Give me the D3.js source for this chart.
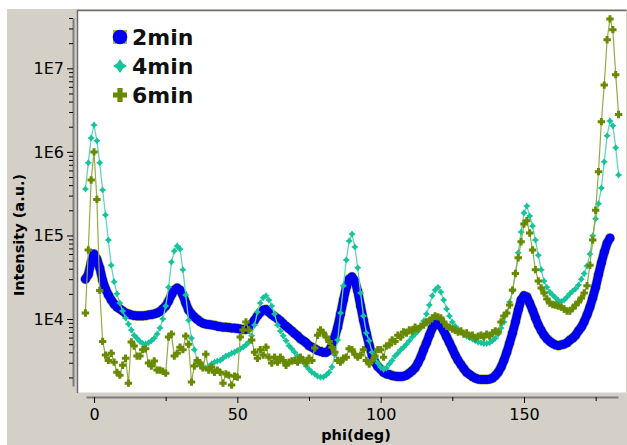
<!DOCTYPE html>
<html>
<head>
<meta charset="utf-8">
<script src="https://cdn.jsdelivr.net/npm/d3@7/dist/d3.min.js"></script>
<style>
	body { margin: 0; background: #fff; }
	svg { display: block; }
	.tick text { font-family: 'DejaVu Sans', sans-serif; font-size: 16px; fill: #000; }
	.axisTitle { font-family: 'DejaVu Sans', sans-serif; font-weight: bold; font-size: 14.5px; fill: #000; }
	.legendText { font-family: 'DejaVu Sans', sans-serif; font-weight: bold; font-size: 22px; fill: #111; }
</style>
</head>
<body>
<div id="chart"></div>
<script>
var PHI = [-3, -2, -1, 0, 1, 2, 3, 4, 5, 6, 7, 8, 9, 10, 11, 12, 13, 14, 15, 16, 17, 18, 19, 20,
	21, 22, 23, 24, 25, 26, 27, 28, 29, 30, 31, 32, 33, 34, 35, 36, 37, 38, 39, 40, 41, 42, 43, 44,
	45, 46, 47, 48, 49, 50, 51, 52, 53, 54, 55, 56, 57, 58, 59, 60, 61, 62, 63, 64, 65, 66, 67, 68,
	69, 70, 71, 72, 73, 74, 75, 76, 77, 78, 79, 80, 81, 82, 83, 84, 85, 86, 87, 88, 89, 90, 91, 92,
	93, 94, 95, 96, 97, 98, 99, 100, 101, 102, 103, 104, 105, 106, 107, 108, 109, 110, 111, 112,
	113, 114, 115, 116, 117, 118, 119, 120, 121, 122, 123, 124, 125, 126, 127, 128, 129, 130, 131,
	132, 133, 134, 135, 136, 137, 138, 139, 140, 141, 142, 143, 144, 145, 146, 147, 148, 149, 150,
	151, 152, 153, 154, 155, 156, 157, 158, 159, 160, 161, 162, 163, 164, 165, 166, 167, 168, 169,
	170, 171, 172, 173, 174, 175, 176, 177, 178, 179, 180, 181, 182, 183];

// 2min : phi -3 .. 180
var INT_2MIN = [3.0e4, 3.4e4, 4.8e4, 6.0e4, 5.2e4, 4.1e4, 2.9e4, 2.3e4, 1.94e4, 1.69e4, 1.51e4, 1.39e4,
	1.32e4, 1.25e4, 1.18e4, 1.15e4, 1.12e4, 1.10e4, 1.09e4, 1.09e4, 1.09e4, 1.10e4, 1.12e4, 1.13e4,
	1.15e4, 1.18e4, 1.23e4, 1.32e4, 1.43e4, 1.64e4, 1.94e4, 2.22e4, 2.35e4, 2.22e4, 1.94e4, 1.55e4,
	1.28e4, 1.15e4, 1.06e4, 9.9e3, 9.3e3, 8.9e3, 8.7e3, 8.6e3, 8.5e3, 8.4e3, 8.2e3, 8.1e3, 8.0e3,
	8.0e3, 7.9e3, 7.8e3, 7.8e3, 7.7e3, 7.6e3, 7.5e3, 7.5e3, 8.0e3, 8.7e3, 9.7e3, 1.09e4, 1.2e4,
	1.28e4, 1.3e4, 1.21e4, 1.13e4, 1.07e4, 1.01e4, 9.5e3, 8.8e3, 8.2e3, 7.7e3, 7.2e3, 6.7e3, 6.3e3,
	5.8e3, 5.5e3, 5.2e3, 4.8e3, 4.6e3, 4.4e3, 4.2e3, 4.1e3, 4.0e3, 4.0e3, 4.2e3, 4.8e3, 6.1e3,
	8.0e3, 1.15e4, 1.69e4, 2.4e4, 3.0e4, 3.2e4, 2.85e4, 2.16e4, 1.43e4, 9.7e3, 6.8e3, 4.9e3, 3.7e3,
	3.05e3, 2.7e3, 2.5e3, 2.3e3, 2.2e3, 2.17e3, 2.1e3, 2.07e3, 2.05e3, 2.05e3, 2.07e3, 2.13e3,
	2.25e3, 2.4e3, 2.6e3, 2.97e3, 3.5e3, 4.3e3, 5.2e3, 6.4e3, 7.8e3, 8.7e3, 8.8e3, 8.2e3, 7.2e3,
	6.1e3, 5.2e3, 4.4e3, 3.7e3, 3.2e3, 2.85e3, 2.55e3, 2.3e3, 2.17e3, 2.05e3, 1.96e3, 1.91e3, 1.89e3,
	1.89e3, 1.89e3, 1.91e3, 1.96e3, 2.1e3, 2.3e3, 2.65e3, 3.2e3, 4.0e3, 5.2e3, 6.8e3, 9.2e3, 1.28e4,
	1.69e4, 1.9e4, 1.84e4, 1.55e4, 1.28e4, 1.03e4, 8.5e3, 7.3e3, 6.4e3, 5.8e3, 5.4e3, 5.1e3, 4.9e3,
	4.8e3, 4.9e3, 5.0e3, 5.2e3, 5.6e3, 5.9e3, 6.4e3, 7.2e3, 8.0e3, 9.3e3, 1.12e4, 1.39e4, 1.8e4,
	2.4e4, 3.4e4, 4.7e4, 6.3e4, 8.1e4, 9.3e4];

// 4min : phi -3 .. 183
var INT_4MIN = [3.6e5, 7.4e5, 1.47e6, 2.1e6, 1.36e6, 7.4e5, 3.5e5, 1.76e5, 8.8e4, 4.4e4, 2.8e4, 2.0e4,
	1.55e4, 1.25e4, 1.03e4, 8.7e3, 7.4e3, 6.4e3, 5.9e3, 5.4e3, 5.1e3, 5.0e3, 5.2e3, 5.5e3, 5.9e3,
	6.6e3, 7.8e3, 1.0e4, 1.43e4, 2.4e4, 4.8e4, 6.5e4, 7.5e4, 6.9e4, 3.9e4, 1.94e4, 9.7e3, 5.9e3,
	4.3e3, 3.2e3, 2.8e3, 2.6e3, 2.6e3, 2.66e3, 2.9e3, 3.05e3, 3.14e3, 3.2e3, 3.4e3, 3.6e3, 3.7e3,
	3.9e3, 4.0e3, 4.2e3, 4.4e3, 4.6e3, 4.9e3, 5.3e3, 6.3e3, 8.5e3, 1.21e4, 1.55e4, 1.8e4, 1.9e4,
	1.69e4, 1.43e4, 1.15e4, 8.5e3, 7.2e3, 6.3e3, 5.5e3, 4.8e3, 4.4e3, 4.0e3, 3.6e3, 3.3e3, 3.05e3,
	2.74e3, 2.5e3, 2.3e3, 2.2e3, 2.07e3, 2.02e3, 2.02e3, 2.13e3, 2.3e3, 2.66e3, 3.7e3, 5.6e3, 1.18e4,
	2.5e4, 5.1e4, 8.6e4, 1.04e5, 7.3e4, 4.1e4, 2.05e4, 1.09e4, 6.8e3, 5.5e3, 4.0e3, 3.4e3, 2.97e3,
	2.66e3, 2.5e3, 2.6e3, 2.9e3, 3.2e3, 3.6e3, 3.9e3, 4.3e3, 4.6e3, 5.0e3, 5.5e3, 6.1e3, 6.6e3,
	7.2e3, 8.0e3, 9.5e3, 1.15e4, 1.47e4, 1.9e4, 2.22e4, 2.4e4, 2.1e4, 1.69e4, 1.32e4, 1.09e4, 9.2e3,
	8.2e3, 7.5e3, 7.0e3, 6.6e3, 6.25e3, 6.0e3, 5.76e3, 5.5e3, 5.3e3, 5.2e3, 5.1e3, 5.1e3, 5.2e3,
	5.5e3, 5.9e3, 6.6e3, 7.8e3, 9.2e3, 1.18e4, 1.6e4, 2.16e4, 3.55e4, 6.2e4, 1.1e5, 1.86e5, 2.25e5,
	1.71e5, 1.3e5, 8.8e4, 5.8e4, 3.9e4, 2.85e4, 2.4e4, 2.1e4, 1.94e4, 1.8e4, 1.67e4, 1.62e4, 1.69e4,
	1.84e4, 2.0e4, 2.16e4, 2.3e4, 2.55e4, 3.0e4, 3.5e4, 4.3e4, 6.0e4, 9.9e4, 1.58e5, 2.4e5, 3.7e5,
	7.6e5, 1.56e6, 2.35e6, 2.05e6, 1.12e6, 5.3e5];

// 6min : phi -3 .. 183
var INT_6MIN = [1.18e4, 6.7e4, 4.6e5, 1.0e6, 2.7e5, 2.2e4, 5.4e3, 3.7e3, 3.2e3, 3.9e3, 3.05e3, 2.3e3,
	2.13e3, 2.8e3, 3.4e3, 1.71e3, 5.3e3, 4.75e3, 3.6e3, 3.6e3, 4.3e3, 4.4e3, 2.97e3, 2.74e3, 3.14e3,
	2.45e3, 2.45e3, 2.38e3, 2.25e3, 6.1e3, 6.6e3, 3.6e3, 3.9e3, 4.6e3, 4.3e3, 6.25e3, 5.0e3, 1.76e3,
	2.74e3, 3.2e3, 2.97e3, 2.6e3, 3.8e3, 2.45e3, 2.66e3, 2.3e3, 2.45e3, 2.3e3, 1.71e3, 2.2e3, 2.13e3,
	1.62e3, 2.07e3, 2.02e3, 6.1e3, 7.4e3, 9.2e3, 7.4e3, 5.6e3, 4.0e3, 3.4e3, 4.3e3, 3.7e3, 4.6e3,
	3.5e3, 2.97e3, 3.5e3, 3.05e3, 3.5e3, 3.2e3, 2.8e3, 3.05e3, 3.14e3, 3.2e3, 3.05e3, 3.5e3, 3.2e3,
	2.97e3, 3.4e3, 3.2e3, 4.5e3, 6.4e3, 7.4e3, 6.8e3, 6.1e3, 5.4e3, 4.6e3, 4.0e3, 3.2e3, 3.05e3,
	3.4e3, 3.5e3, 4.4e3, 4.3e3, 3.8e3, 3.5e3, 3.7e3, 4.3e3, 3.2e3, 2.9e3, 3.2e3, 3.6e3, 4.3e3, 4.3e3,
	3.5e3, 4.75e3, 4.9e3, 5.6e3, 5.4e3, 6.4e3, 6.1e3, 7.0e3, 6.8e3, 7.4e3, 7.2e3, 8.0e3, 7.6e3,
	8.2e3, 8.5e3, 9.2e3, 9.5e3, 1.03e4, 1.09e4, 1.06e4, 1.03e4, 9.2e3, 8.2e3, 8.0e3, 7.6e3, 7.4e3,
	7.0e3, 7.2e3, 6.6e3, 6.8e3, 6.25e3, 6.4e3, 5.9e3, 6.25e3, 6.4e3, 6.1e3, 6.6e3, 6.25e3, 6.8e3,
	7.2e3, 7.0e3, 9.2e3, 1.09e4, 1.18e4, 1.47e4, 2.22e4, 3.5e4, 5.4e4, 8.4e4, 1.37e5, 1.5e5, 1.07e5,
	6.7e4, 3.9e4, 2.85e4, 2.35e4, 2.05e4, 1.74e4, 1.55e4, 1.49e4, 1.47e4, 1.43e4, 1.39e4, 1.32e4,
	1.25e4, 1.25e4, 1.35e4, 1.47e4, 1.6e4, 1.78e4, 2.05e4, 2.5e4, 4.4e4, 8.8e4, 2.0e5, 5.8e5, 2.3e6,
	6.3e6, 2.2e7, 3.9e7, 2.9e7, 8.4e6, 2.8e6];

var SERIES_NAMES = ['2min', '4min', '6min'];
var X_MAJOR_TICKS = [0, 50, 100, 150];
var X_MINOR_TICKS = [25, 75, 125, 175];
var Y_MAJOR_TICKS = [1e4, 1e5, 1e6, 1e7];
var Y_MINOR_TICKS = [2e3, 3e3, 4e3, 5e3, 6e3, 7e3, 8e3, 9e3, 2e4, 3e4, 4e4, 5e4, 6e4, 7e4, 8e4, 9e4,
	2e5, 3e5, 4e5, 5e5, 6e5, 7e5, 8e5, 9e5, 2e6, 3e6, 4e6, 5e6, 6e6, 7e6, 8e6, 9e6, 2e7, 3e7, 4e7];

var BLUE = '#0000f0',
	HALO = '#b8c850',
	TEAL = '#14c49b',
	OLIVE = '#678a00';

drawChart('chart');

function drawChart(elementId) {
	var width = 627,
		height = 445,
		plot = { left: 77, top: 10, right: 626, bottom: 392.5 },

		svg = d3.select('#' + elementId).append('svg')
			.attr('width', width)
			.attr('height', height),

		x = d3.scaleLinear()
			.domain([-2.8, 182.8])
			.range([86, 618]),

		y = d3.scaleLog()
			.domain([1580, 4e7])
			.range([386, 18]);

	function points(values) {
		return values.map(function (v, i) {
			return { phi: PHI[i], value: v };
		});
	}

	var data2 = points(INT_2MIN),
		data4 = points(INT_4MIN),
		data6 = points(INT_6MIN);

	// panel background
	svg.append('rect')
		.attr('x', 7).attr('y', 9)
		.attr('width', width - 7).attr('height', height - 9)
		.attr('fill', '#d4d0c8');

	svg.append('rect')
		.attr('x', plot.left).attr('y', plot.top)
		.attr('width', plot.right - plot.left).attr('height', plot.bottom - plot.top)
		.attr('fill', '#fff');

	svg.append('path')
		.attr('d', 'M' + plot.left + ',' + plot.bottom + 'V' + plot.top + 'H' + plot.right)
		.attr('transform', 'translate(0.5,0.5)')
		.attr('fill', 'none')
		.attr('stroke', '#6e6e6e')
		.attr('stroke-width', 1.5);

	svg.append('defs').append('clipPath')
		.attr('id', 'plotClip')
		.append('rect')
		.attr('x', plot.left + 1).attr('y', plot.top + 1)
		.attr('width', plot.right - plot.left - 1).attr('height', plot.bottom - plot.top - 1);

	// axes
	svg.append('g')
		.attr('class', 'xAxis')
		.attr('transform', 'translate(0,397)')
		.call(d3.axisBottom(x)
			.tickValues(X_MAJOR_TICKS)
			.tickSize(6)
			.tickSizeOuter(0)
			.tickPadding(6));

	svg.append('g')
		.attr('class', 'xAxisMinor')
		.attr('transform', 'translate(0,397)')
		.call(d3.axisBottom(x)
			.tickValues(X_MINOR_TICKS)
			.tickSize(4)
			.tickSizeOuter(0)
			.tickFormat(''))
		.select('.domain').remove();

	svg.append('g')
		.attr('class', 'yAxis')
		.attr('transform', 'translate(73,0)')
		.call(d3.axisLeft(y)
			.tickValues(Y_MAJOR_TICKS)
			.tickSize(6)
			.tickSizeOuter(0)
			.tickPadding(3)
			.tickFormat(function (d) { return '1E' + Math.round(Math.log10(d)); }));

	svg.append('g')
		.attr('class', 'yAxisMinor')
		.attr('transform', 'translate(73,0)')
		.call(d3.axisLeft(y)
			.tickValues(Y_MINOR_TICKS)
			.tickSize(4)
			.tickSizeOuter(0)
			.tickFormat(''))
		.select('.domain').remove();

	svg.selectAll('.xAxis .domain, .yAxis .domain')
		.attr('stroke', '#7d7d7d')
		.attr('stroke-width', 2);
	svg.selectAll('.tick line').attr('stroke', '#000');

	svg.append('text')
		.attr('class', 'axisTitle')
		.attr('x', 356)
		.attr('y', 440)
		.attr('text-anchor', 'middle')
		.text('phi(deg)');

	svg.append('text')
		.attr('class', 'axisTitle')
		.attr('transform', 'translate(24,235) rotate(-90)')
		.attr('text-anchor', 'middle')
		.text('Intensity (a.u.)');

	// series
	var layer = svg.append('g').attr('clip-path', 'url(#plotClip)');

	var line = d3.line()
		.x(function (d) { return x(d.phi); })
		.y(function (d) { return y(d.value); });

	// 2min : dense markers drawn as a halo band, then the blue band on top
	layer.append('path')
		.datum(data2)
		.attr('d', line)
		.attr('fill', 'none')
		.attr('stroke', HALO)
		.attr('stroke-width', 10)
		.attr('stroke-linejoin', 'round')
		.attr('stroke-linecap', 'round');

	layer.append('g').selectAll('circle')
		.data(data2)
		.enter().append('circle')
		.attr('cx', function (d) { return x(d.phi); })
		.attr('cy', function (d) { return y(d.value); })
		.attr('r', 5.1)
		.attr('fill', HALO);

	layer.append('path')
		.datum(data2)
		.attr('d', line)
		.attr('fill', 'none')
		.attr('stroke', BLUE)
		.attr('stroke-width', 8.6)
		.attr('stroke-linejoin', 'round')
		.attr('stroke-linecap', 'round');

	layer.append('g').selectAll('circle')
		.data(data2)
		.enter().append('circle')
		.attr('cx', function (d) { return x(d.phi); })
		.attr('cy', function (d) { return y(d.value); })
		.attr('r', 4.4)
		.attr('fill', BLUE);

	// 4min
	layer.append('path')
		.datum(data4)
		.attr('d', line)
		.attr('fill', 'none')
		.attr('stroke', '#62d6bb')
		.attr('stroke-width', 1.3);

	layer.append('g').selectAll('path')
		.data(data4)
		.enter().append('path')
		.attr('d', starPath(3.6, 1.5))
		.attr('transform', function (d) { return 'translate(' + x(d.phi) + ',' + y(d.value) + ')'; })
		.attr('fill', TEAL);

	// 6min
	layer.append('path')
		.datum(data6)
		.attr('d', line)
		.attr('fill', 'none')
		.attr('stroke', '#93ab45')
		.attr('stroke-width', 1.2);

	layer.append('g').selectAll('path')
		.data(data6)
		.enter().append('path')
		.attr('d', plusPath(3.7, 1.5))
		.attr('transform', function (d) { return 'translate(' + x(d.phi) + ',' + y(d.value) + ')'; })
		.attr('fill', OLIVE);

	// legend
	var legend = svg.append('g').attr('class', 'legend');

	legend.append('rect')
		.attr('x', 113).attr('y', 30)
		.attr('width', 14).attr('height', 14)
		.attr('fill', '#a9c23f');
	legend.append('circle')
		.attr('cx', 120).attr('cy', 37)
		.attr('r', 7.3)
		.attr('fill', BLUE);

	legend.append('path')
		.attr('d', starPath(7, 2.8))
		.attr('transform', 'translate(120,66)')
		.attr('fill', TEAL);

	legend.append('path')
		.attr('d', plusPath(7, 2.6))
		.attr('transform', 'translate(120,95)')
		.attr('fill', OLIVE);

	legend.selectAll('text')
		.data(SERIES_NAMES)
		.enter().append('text')
		.attr('class', 'legendText')
		.attr('x', 132)
		.attr('y', function (d, i) { return 45 + i * 29; })
		.text(function (d) { return d; });

	// Helper functions
	function starPath(s, a) {
		return 'M0,' + (-s) + 'L' + a + ',' + (-a) + 'L' + s + ',0L' + a + ',' + a +
			'L0,' + s + 'L' + (-a) + ',' + a + 'L' + (-s) + ',0L' + (-a) + ',' + (-a) + 'Z';
	}

	function plusPath(l, w) {
		return 'M' + (-w) + ',' + (-l) + 'H' + w + 'V' + (-w) + 'H' + l + 'V' + w + 'H' + w +
			'V' + l + 'H' + (-w) + 'V' + w + 'H' + (-l) + 'V' + (-w) + 'H' + (-w) + 'Z';
	}
}
</script>
</body>
</html>
